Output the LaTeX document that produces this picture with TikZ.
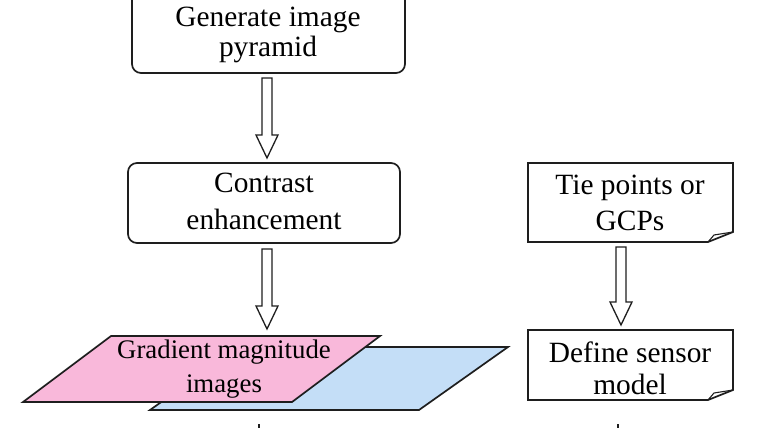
\documentclass[tikz,border=0pt]{standalone}
\usepackage{fontspec}
\setmainfont{Liberation Serif}
\definecolor{pinkfill}{RGB}{249,184,218}
\definecolor{bluefill}{RGB}{196,222,247}
\definecolor{edge}{RGB}{30,30,30}
\tikzset{
  x=1pt, y=-1pt,
  boxline/.style={draw=edge, line width=1.7pt},
  roundbox/.style={boxline, rounded corners=9pt, fill=white},
  lbl/.style={align=center, text=black, inner sep=0pt},
  arrline/.style={draw=edge, line width=1.3pt, fill=white, line join=miter},
}
\newcommand{\blockarr}[3]{%
  \draw[arrline] ({#1-5},#2) -- ({#1+5},#2) -- ({#1+5},{#3-23}) -- ({#1+11},{#3-23})
    -- (#1,#3) -- ({#1-11},{#3-23}) -- ({#1-5},{#3-23}) -- cycle;}
\begin{document}
\begin{tikzpicture}
\useasboundingbox (0,0) rectangle (760,428);
\clip (0,0) rectangle (760,428);
\fill[white] (0,0) rectangle (760,428);

% top box (cut at top)
\draw[roundbox] (132,-30) rectangle (405,73);
\node[lbl, font=\fontsize{29.4}{30}\selectfont] (gen) at (268,34.5) {Generate image\\pyramid};

% contrast box
\draw[roundbox] (128,163) rectangle (400,243);
\node[lbl, font=\fontsize{29.4}{37}\selectfont] (con) at (264,201) {Contrast\\enhancement};

% arrows left column
\blockarr{267}{78}{158}
\blockarr{267}{249}{329}

% parallelograms
\draw[boxline, fill=bluefill, line join=miter] (239,347) -- (508,347) -- (419,410) -- (150,410) -- cycle;
\draw[boxline, fill=pinkfill, line join=miter] (111,336) -- (380,336) -- (292,402) -- (23,402) -- cycle;
\node[lbl, font=\fontsize{26.8}{34}\selectfont] (grad) at (224,369.5) {Gradient magnitude\\images};

% right column: document boxes
\draw[boxline, fill=white, line join=miter] (528,163) -- (733,163) -- (733,232) -- (708,242) -- (528,242) -- cycle;
\draw[boxline, line width=1.1pt, line join=miter] (708,242) -- (714,235) -- (733,232);
\node[lbl, font=\fontsize{29.4}{36}\selectfont] (tie) at (630,202.5) {Tie points or\\GCPs};

\blockarr{621}{247}{325}

\draw[boxline, fill=white, line join=miter] (528,330) -- (733,330) -- (733,390) -- (708,400) -- (528,400) -- cycle;
\draw[boxline, line width=1.1pt, line join=miter] (708,400) -- (714,393) -- (733,390);
\node[lbl, font=\fontsize{29.4}{32}\selectfont] (def) at (630,368.5) {Define sensor\\model};

% tiny marks at bottom edge
\draw[edge, line width=1.2pt] (259,424) -- (259,430);
\draw[edge, line width=1.2pt] (618,424) -- (618,430);
\end{tikzpicture}
\end{document}
